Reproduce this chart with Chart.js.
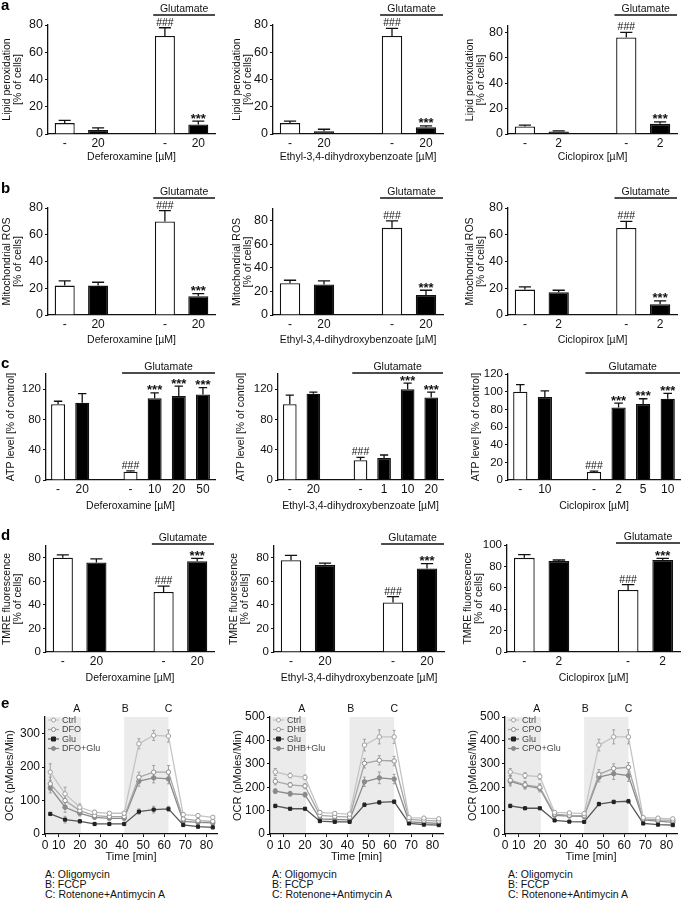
<!DOCTYPE html>
<html><head><meta charset="utf-8">
<script src="https://cdn.jsdelivr.net/npm/chart.js@4"></script>
<style>
body{margin:0;background:#fff;}
#fig{position:relative;width:685px;height:902px;overflow:hidden;background:#fff;font-family:"Liberation Sans",Arial,sans-serif;color:#111;}
.lab{position:absolute;font-weight:bold;font-size:15px;line-height:16px;color:#000;}
.note{position:absolute;font-size:10.5px;line-height:10px;color:#111;white-space:nowrap;}
</style></head><body><div id="fig"></div>
<script>
// ---------- categories / tick labels ----------
const dfoPairLabels = ['-', '20', '', '-', '20'];
const dhbPairLabels = ['-', '20', '', '-', '20'];
const cpoPairLabels = ['-', '2', '', '-', '2'];
const dfoAtpLabels = ['-', '20', '', '-', '10', '20', '50'];
const dhbAtpLabels = ['-', '20', '', '-', '1', '10', '20'];
const cpoAtpLabels = ['-', '10', '', '-', '2', '5', '10'];
const pairMarks = ['', '', '', '###', '***'];
const dfoAtpMarks = ['', '', '', '###', '***', '***', '***'];
const dhbAtpMarks = ['', '', '', '###', '', '***', '***'];
const cpoAtpMarks = ['', '', '', '###', '***', '***', '***'];
const drugTitles = ['Deferoxamine [µM]', 'Ethyl-3,4-dihydroxybenzoate [µM]', 'Ciclopirox [µM]'];

// ---------- a: lipid peroxidation ----------
const lipidDfo = [8, 3, null, 72, 7];
const lipidDfoErr = [2, 1.5, null, 6, 2.5];
const lipidDhb = [8, 2, null, 72, 5];
const lipidDhbErr = [1.5, 1.5, null, 5.5, 1];
const lipidCpo = [6, 2, null, 76, 8];
const lipidCpoErr = [1, 0.5, null, 4, 1.5];

// ---------- b: mitochondrial ROS ----------
const rosDfo = [22, 22, null, 70, 14];
const rosDfoErr = [3.5, 2.5, null, 8, 2];
const rosDhb = [27, 26, null, 74, 17];
const rosDhbErr = [2.5, 3, null, 6, 4];
const rosCpo = [19, 17, null, 65, 8];
const rosCpoErr = [2, 1.5, null, 5, 2.5];

// ---------- c: ATP level ----------
const atpDfo = [100, 102, null, 11, 108, 111, 113];
const atpDfoErr = [4, 12, null, 1, 7, 13, 9];
const atpDhb = [100, 114, null, 26, 29, 120, 109];
const atpDhbErr = [12, 2, null, 4, 4, 8, 7];
const atpCpo = [100, 94, null, 9, 82, 86, 92];
const atpCpoErr = [8, 7, null, 1, 5, 6, 6];

// ---------- d: TMRE fluorescence ----------
const tmreDfo = [80, 76, null, 51, 77];
const tmreDfoErr = [2.5, 3, null, 5, 2.5];
const tmreDhb = [78, 74, null, 42, 71];
const tmreDhbErr = [4, 1.5, null, 5, 4];
const tmreCpo = [88, 85, null, 58, 86];
const tmreCpoErr = [3, 1, null, 5, 1.5];

// ---------- e: OCR ----------
const ocrTime = [6, 13, 20, 27, 34, 41, 48, 55, 62, 69, 76, 83];
const ocrTimeMin = 3.5;
const ocrTimeMax = 85;
const ocrTickValues = [ocrTimeMin, 10, 20, 30, 40, 50, 60, 70, 80];
const ocrTickLabels = ['0', '10', '20', '30', '40', '50', '60', '70', '80'];
const injectionWindows = [[ocrTimeMin, 20.5], [41, 62]];
const injectionNames = ['A', 'B', 'C'];
const injectionTimes = [18.5, 41.5, 62];
const injectionNotes = ['A: Oligomycin', 'B: FCCP', 'C: Rotenone+Antimycin A'];

const ocrDfoNames = ['Ctrl', 'DFO', 'Glu', 'DFO+Glu'];
const ocrDfoCtrl = [185, 120, 80, 65, 62, 62, 270, 295, 293, 58, 55, 50];
const ocrDfoCtrlErr = [25, 20, 10, 6, 5, 5, 15, 15, 18, 6, 5, 5];
const ocrDfoDrug = [150, 100, 70, 55, 52, 52, 170, 185, 185, 45, 40, 38];
const ocrDfoDrugErr = [20, 15, 8, 5, 5, 5, 15, 20, 20, 5, 5, 5];
const ocrDfoGlu = [60, 43, 38, 30, 30, 30, 67, 73, 75, 27, 22, 20];
const ocrDfoGluErr = [5, 10, 5, 5, 5, 5, 8, 10, 8, 5, 5, 5];
const ocrDfoDrugGlu = [138, 80, 62, 50, 47, 47, 158, 168, 165, 38, 35, 33];
const ocrDfoDrugGluErr = [15, 15, 8, 5, 5, 5, 15, 15, 15, 5, 5, 5];

const ocrDhbNames = ['Ctrl', 'DHB', 'Glu', 'DHB+Glu'];
const ocrDhbCtrl = [265, 250, 242, 92, 88, 85, 380, 415, 415, 70, 68, 65];
const ocrDhbCtrlErr = [15, 10, 10, 8, 6, 6, 25, 30, 28, 6, 5, 5];
const ocrDhbDrug = [225, 210, 205, 80, 75, 72, 302, 315, 312, 62, 58, 55];
const ocrDhbDrugErr = [15, 10, 10, 6, 5, 5, 20, 20, 20, 5, 5, 5];
const ocrDhbGlu = [120, 108, 108, 55, 52, 52, 125, 135, 138, 45, 40, 38];
const ocrDhbGluErr = [8, 5, 5, 5, 5, 5, 8, 8, 8, 5, 4, 4];
const ocrDhbDrugGlu = [183, 172, 168, 65, 62, 60, 223, 240, 235, 52, 48, 45];
const ocrDhbDrugGluErr = [10, 10, 10, 5, 5, 5, 20, 25, 20, 5, 5, 5];

const ocrCpoNames = ['Ctrl', 'CPO', 'Glu', 'CPO+Glu'];
const ocrCpoCtrl = [265, 250, 245, 92, 90, 87, 380, 415, 415, 70, 68, 65];
const ocrCpoCtrlErr = [15, 12, 12, 8, 6, 6, 25, 30, 30, 6, 5, 5];
const ocrCpoDrug = [230, 210, 200, 85, 80, 78, 255, 280, 285, 65, 60, 58];
const ocrCpoDrugErr = [20, 15, 15, 6, 5, 5, 20, 20, 20, 5, 5, 5];
const ocrCpoGlu = [120, 110, 110, 58, 53, 52, 128, 137, 140, 45, 40, 38];
const ocrCpoGluErr = [8, 5, 5, 5, 5, 5, 8, 8, 8, 5, 4, 4];
const ocrCpoDrugGlu = [225, 207, 195, 80, 77, 75, 243, 258, 250, 60, 55, 50];
const ocrCpoDrugGluErr = [20, 15, 15, 5, 5, 5, 20, 25, 25, 5, 5, 5];

// ---------- drawing ----------
const FONT = '"Liberation Sans", Arial, sans-serif';
const INK = '#111';
Chart.defaults.font.family = FONT;
Chart.defaults.color = INK;
const fig = document.getElementById('fig');

function makeCanvas(left, top, w, h) {
  const c = document.createElement('canvas');
  c.width = w; c.height = h;
  c.style.cssText = `position:absolute;left:${left}px;top:${top}px;width:${w}px;height:${h}px`;
  fig.appendChild(c);
  return c;
}

const barErrorPlugin = {
  id: 'barErr',
  afterDatasetsDraw(chart) {
    const ctx = chart.ctx, ys = chart.scales.y;
    const ds = chart.data.datasets[0];
    const meta = chart.getDatasetMeta(0);
    ctx.save();
    meta.data.forEach((bar, i) => {
      const v = ds.data[i], e = ds.errors[i];
      if (v == null) return;
      const top = ys.getPixelForValue(v + (e || 0));
      const half = bar.width * 0.3;
      ctx.strokeStyle = INK; ctx.lineWidth = 1.3;
      ctx.beginPath();
      ctx.moveTo(bar.x, bar.y); ctx.lineTo(bar.x, top);
      ctx.moveTo(bar.x - half, top); ctx.lineTo(bar.x + half, top);
      ctx.stroke();
      const m = ds.marks[i];
      if (m) {
        ctx.fillStyle = INK; ctx.textAlign = 'center'; ctx.textBaseline = 'alphabetic';
        if (m[0] === '#') { ctx.font = `10.5px ${FONT}`; ctx.fillText(m, bar.x, top - 2); }
        else { ctx.font = `bold 13px ${FONT}`; ctx.fillText(m, bar.x, top + 1.5); }
      }
    });
    ctx.restore();
  }
};

const glutPlugin = {
  id: 'glut',
  afterDraw(chart, args, opts) {
    const ctx = chart.ctx, xs = chart.scales.x;
    const meta = chart.getDatasetMeta(0);
    const slot = xs.getPixelForValue(1) - xs.getPixelForValue(0);
    const x1 = meta.data[opts.from].x - 0.35 * slot;
    const x2 = meta.data[meta.data.length - 1].x + 0.5 * slot;
    const y = chart.chartArea.top - opts.offset;
    ctx.save();
    ctx.strokeStyle = INK; ctx.lineWidth = 1.3;
    ctx.beginPath(); ctx.moveTo(x1, y); ctx.lineTo(x2, y); ctx.stroke();
    ctx.fillStyle = INK; ctx.font = `10.5px ${FONT}`;
    ctx.textAlign = 'center'; ctx.textBaseline = 'alphabetic';
    ctx.fillText('Glutamate', (x1 + x2) / 2, y - 3);
    ctx.restore();
  }
};

function barPanel(p) {
  const tSize = 10.5;
  const left = Math.round(p.titleX - 2 - tSize / 2);
  const right = p.plotRight + 8;
  const cv = makeCanvas(left, p.top, right - left, p.bottom - p.top);
  const yW = p.axisX - left;
  const xH = p.bottom - p.plotBottom;
  new Chart(cv, {
    type: 'bar',
    data: {labels: p.labels, datasets: [{
      data: p.values, errors: p.errors, marks: p.marks,
      backgroundColor: p.labels.map(l => l === '-' ? '#ffffff' : '#000000'),
      borderColor: INK, borderWidth: 1.3,
      barPercentage: p.barPct, categoryPercentage: 1
    }]},
    options: {
      responsive: false, animation: false, devicePixelRatio: 1,
      layout: {padding: {left: 0, right: right - p.plotRight, top: p.plotTop - p.top, bottom: 0}},
      plugins: {legend: {display: false}, tooltip: {enabled: false},
        glut: {from: 3, offset: p.glutOffset}},
      scales: {
        x: {
          grid: {display: false, drawTicks: false},
          border: {display: true, color: INK, width: 1.3},
          ticks: {font: {size: 12}, color: INK, padding: 2, maxRotation: 0, autoSkip: false},
          title: {display: true, text: p.xTitle, font: {size: 10.5}, color: INK, padding: {top: 0, bottom: 2}},
          afterFit: s => { s.height = xH; }
        },
        y: {
          min: 0, max: p.yMax,
          ticks: {stepSize: p.yStep, includeBounds: false, font: {size: p.yTick}, color: INK, padding: 2},
          grid: {drawOnChartArea: false, drawTicks: true, tickLength: 3, color: INK, lineWidth: 1},
          border: {display: true, color: INK, width: 1.3},
          title: {display: true, text: p.yTitle, font: {size: tSize, lineHeight: 1}, color: INK, padding: {top: 2, bottom: 0}},
          afterFit: s => { s.width = yW; }
        }
      }
    },
    plugins: [barErrorPlugin, glutPlugin]
  });
}

const ocrStyles = [
  {borderColor: '#c4c4c4', pointBackgroundColor: '#ffffff', pointBorderColor: '#a0a0a0', pointStyle: 'circle'},
  {borderColor: '#a6a6a6', pointBackgroundColor: '#ffffff', pointBorderColor: '#8c8c8c', pointStyle: 'circle'},
  {borderColor: '#555555', pointBackgroundColor: '#222222', pointBorderColor: '#222222', pointStyle: 'rect'},
  {borderColor: '#8a8a8a', pointBackgroundColor: '#8a8a8a', pointBorderColor: '#8a8a8a', pointStyle: 'circle'}
];

const shadePlugin = {
  id: 'shade',
  beforeDraw(chart) {
    const ctx = chart.ctx, xs = chart.scales.x, a = chart.chartArea;
    ctx.save();
    ctx.fillStyle = '#ebebeb';
    injectionWindows.forEach(([s, e]) => {
      const x1 = Math.max(xs.getPixelForValue(s), a.left + 1);
      const x2 = xs.getPixelForValue(e);
      ctx.fillRect(x1, a.top, x2 - x1, a.bottom - a.top);
    });
    ctx.restore();
  },
  afterDraw(chart) {
    const ctx = chart.ctx, xs = chart.scales.x, a = chart.chartArea;
    ctx.save();
    ctx.fillStyle = INK; ctx.font = `10.5px ${FONT}`;
    ctx.textAlign = 'center'; ctx.textBaseline = 'alphabetic';
    injectionNames.forEach((n, i) => ctx.fillText(n, xs.getPixelForValue(injectionTimes[i]), a.top - 5));
    // legend
    const x0 = a.left + 3;
    ctx.font = `9px ${FONT}`; ctx.textAlign = 'left'; ctx.textBaseline = 'middle';
    chart.data.datasets.forEach((ds, i) => {
      const y = a.top + 3 + i * 9.5;
      ctx.strokeStyle = ds.borderColor; ctx.lineWidth = 1.2;
      ctx.beginPath(); ctx.moveTo(x0, y); ctx.lineTo(x0 + 11, y); ctx.stroke();
      ctx.fillStyle = ds.pointBackgroundColor; ctx.strokeStyle = ds.pointBorderColor; ctx.lineWidth = 1;
      ctx.beginPath();
      if (ds.pointStyle === 'rect') ctx.rect(x0 + 3.5, y - 2, 4, 4); else ctx.arc(x0 + 5.5, y, 2, 0, Math.PI * 2);
      ctx.fill(); ctx.stroke();
      ctx.fillStyle = '#444';
      ctx.fillText(ds.label, x0 + 14, y + 0.5);
    });
    ctx.restore();
  }
};

const lineErrorPlugin = {
  id: 'lineErr',
  beforeDatasetsDraw(chart) {
    const ctx = chart.ctx, ys = chart.scales.y;
    ctx.save();
    ctx.strokeStyle = '#9a9a9a'; ctx.lineWidth = 0.9;
    chart.data.datasets.forEach((ds, di) => {
      const meta = chart.getDatasetMeta(di);
      meta.data.forEach((pt, i) => {
        const v = ds.data[i].y, e = ds.errors[i];
        const y1 = ys.getPixelForValue(v + e), y2 = ys.getPixelForValue(v - e);
        ctx.beginPath();
        ctx.moveTo(pt.x, y1); ctx.lineTo(pt.x, y2);
        ctx.moveTo(pt.x - 1.5, y1); ctx.lineTo(pt.x + 1.5, y1);
        ctx.moveTo(pt.x - 1.5, y2); ctx.lineTo(pt.x + 1.5, y2);
        ctx.stroke();
      });
    });
    ctx.restore();
  }
};

function ocrPanel(p) {
  const tSize = 11;
  const left = Math.round(p.titleX - 2 - tSize / 2);
  const right = p.plotRight + 6;
  const cv = makeCanvas(left, p.top, right - left, p.bottom - p.top);
  const yW = p.axisX - left;
  const xH = p.bottom - p.plotBottom;
  new Chart(cv, {
    type: 'line',
    data: {datasets: p.series.map((s, k) => Object.assign({
      label: s.name,
      data: ocrTime.map((t, j) => ({x: t, y: s.values[j]})),
      errors: s.errors,
      borderWidth: 1.3, pointRadius: 2.2, pointBorderWidth: 1, tension: 0, fill: false
    }, ocrStyles[k]))},
    options: {
      responsive: false, animation: false, devicePixelRatio: 1,
      layout: {padding: {left: 0, right: right - p.plotRight, top: p.plotTop - p.top, bottom: 0}},
      plugins: {legend: {display: false}, tooltip: {enabled: false}},
      scales: {
        x: {
          type: 'linear', min: ocrTimeMin, max: ocrTimeMax,
          afterBuildTicks: s => { s.ticks = ocrTickValues.map(v => ({value: v})); },
          ticks: {callback: (v, i) => ocrTickLabels[i], font: {size: 12}, color: INK, padding: 1, maxRotation: 0, autoSkip: false},
          grid: {drawOnChartArea: false, drawTicks: true, tickLength: 3, color: INK},
          border: {display: true, color: INK, width: 1.3},
          title: {display: true, text: 'Time [min]', font: {size: 11}, color: INK, padding: {top: 0, bottom: 2}},
          afterFit: s => { s.height = xH; }
        },
        y: {
          min: 0, max: p.yMax,
          ticks: {stepSize: p.yStep, font: {size: 12}, color: INK, padding: 2},
          grid: {drawOnChartArea: false, drawTicks: true, tickLength: 3, color: INK},
          border: {display: true, color: INK, width: 1.3},
          title: {display: true, text: 'OCR (pMoles/Min)', font: {size: tSize, lineHeight: 1}, color: INK, padding: {top: 2, bottom: 0}},
          afterFit: s => { s.width = yW; }
        }
      }
    },
    plugins: [shadePlugin, lineErrorPlugin]
  });
}

// ---------- layout ----------
const rowA = {top: 0, plotTop: 25, plotBottom: 134, bottom: 165, glutOffset: 10, yTick: 12.5, barPct: 0.6, yTitle: ['Lipid peroxidation', '[% of cells]']};
const rowB = {top: 182, plotTop: 208, plotBottom: 315, bottom: 348, glutOffset: 10, yTick: 12.5, barPct: 0.6, yTitle: ['Mitochondrial ROS', '[% of cells]']};
const rowC = {top: 356, plotTop: 374, plotBottom: 480, bottom: 514, glutOffset: 1, yTick: 11.5, barPct: 0.58, yTitle: 'ATP level [% of control]'};
const rowD = {top: 528, plotTop: 546, plotBottom: 652, bottom: 686, glutOffset: 2, yTick: 11.5, barPct: 0.6, yTitle: ['TMRE fluorescence', '[% of cells]']};
const rowE = {top: 698, plotTop: 717, plotBottom: 834, bottom: 866};

barPanel(Object.assign({}, rowA, {titleX: 7, axisX: 48, plotRight: 215, labels: dfoPairLabels, values: lipidDfo, errors: lipidDfoErr, marks: pairMarks, yMax: 80, yStep: 20, xTitle: drugTitles[0]}));
barPanel(Object.assign({}, rowA, {titleX: 237, axisX: 273, plotRight: 443, labels: dhbPairLabels, values: lipidDhb, errors: lipidDhbErr, marks: pairMarks, yMax: 80, yStep: 20, xTitle: drugTitles[1]}));
barPanel(Object.assign({}, rowA, {titleX: 470, axisX: 508, plotRight: 677, plotTop: 26, glutOffset: 11, labels: cpoPairLabels, values: lipidCpo, errors: lipidCpoErr, marks: pairMarks, yMax: 85, yStep: 20, xTitle: drugTitles[2]}));

barPanel(Object.assign({}, rowB, {titleX: 7, axisX: 48, plotRight: 215, labels: dfoPairLabels, values: rosDfo, errors: rosDfoErr, marks: pairMarks, yMax: 80, yStep: 20, xTitle: drugTitles[0]}));
barPanel(Object.assign({}, rowB, {titleX: 237, axisX: 273, plotRight: 443, plotTop: 209, glutOffset: 11, labels: dhbPairLabels, values: rosDhb, errors: rosDhbErr, marks: pairMarks, yMax: 90, yStep: 20, xTitle: drugTitles[1]}));
barPanel(Object.assign({}, rowB, {titleX: 470, axisX: 508, plotRight: 677, labels: cpoPairLabels, values: rosCpo, errors: rosCpoErr, marks: pairMarks, yMax: 80, yStep: 20, xTitle: drugTitles[2]}));

barPanel(Object.assign({}, rowC, {titleX: 11, axisX: 46, plotRight: 215, labels: dfoAtpLabels, values: atpDfo, errors: atpDfoErr, marks: dfoAtpMarks, yMax: 140, yStep: 20, xTitle: drugTitles[0]}));
barPanel(Object.assign({}, rowC, {titleX: 241, axisX: 278, plotRight: 443, labels: dhbAtpLabels, values: atpDhb, errors: atpDhbErr, marks: dhbAtpMarks, yMax: 140, yStep: 20, xTitle: drugTitles[1]}));
barPanel(Object.assign({}, rowC, {titleX: 476, axisX: 508, plotRight: 680, labels: cpoAtpLabels, values: atpCpo, errors: atpCpoErr, marks: cpoAtpMarks, yMax: 120, yStep: 20, xTitle: drugTitles[2]}));

barPanel(Object.assign({}, rowD, {titleX: 7.5, axisX: 46, plotRight: 214, labels: dfoPairLabels, values: tmreDfo, errors: tmreDfoErr, marks: pairMarks, yMax: 90, yStep: 10, xTitle: drugTitles[0]}));
barPanel(Object.assign({}, rowD, {titleX: 234, axisX: 274, plotRight: 444, labels: dhbPairLabels, values: tmreDhb, errors: tmreDhbErr, marks: pairMarks, yMax: 90, yStep: 10, xTitle: drugTitles[1]}));
barPanel(Object.assign({}, rowD, {titleX: 468, axisX: 507, plotRight: 680, plotTop: 545, labels: cpoPairLabels, values: tmreCpo, errors: tmreCpoErr, marks: pairMarks, yMax: 100, yStep: 20, xTitle: drugTitles[2]}));

const mk = (names, vals, errs) => names.map((n, i) => ({name: n, values: vals[i], errors: errs[i]}));
ocrPanel(Object.assign({}, rowE, {titleX: 9, axisX: 45, plotRight: 217, yMax: 350, yStep: 50,
  series: mk(ocrDfoNames, [ocrDfoCtrl, ocrDfoDrug, ocrDfoGlu, ocrDfoDrugGlu], [ocrDfoCtrlErr, ocrDfoDrugErr, ocrDfoGluErr, ocrDfoDrugGluErr])}));
ocrPanel(Object.assign({}, rowE, {titleX: 237, axisX: 270, plotRight: 443, yMax: 500, yStep: 100,
  series: mk(ocrDhbNames, [ocrDhbCtrl, ocrDhbDrug, ocrDhbGlu, ocrDhbDrugGlu], [ocrDhbCtrlErr, ocrDhbDrugErr, ocrDhbGluErr, ocrDhbDrugGluErr])}));
ocrPanel(Object.assign({}, rowE, {titleX: 472, axisX: 505, plotRight: 677, yMax: 500, yStep: 100,
  series: mk(ocrCpoNames, [ocrCpoCtrl, ocrCpoDrug, ocrCpoGlu, ocrCpoDrugGlu], [ocrCpoCtrlErr, ocrCpoDrugErr, ocrCpoGluErr, ocrCpoDrugGluErr])}));

// panel letters
[['a', -3], ['b', 180], ['c', 355], ['d', 527], ['e', 695]].forEach(([t, y]) => {
  const d = document.createElement('div');
  d.className = 'lab'; d.textContent = t;
  d.style.left = '1px'; d.style.top = y + 'px';
  fig.appendChild(d);
});
// injection notes
[45, 272, 508].forEach(x => {
  injectionNotes.forEach((t, i) => {
    const d = document.createElement('div');
    d.className = 'note'; d.textContent = t;
    d.style.left = x + 'px'; d.style.top = (869 + i * 10) + 'px';
    fig.appendChild(d);
  });
});
</script>
</body></html>
